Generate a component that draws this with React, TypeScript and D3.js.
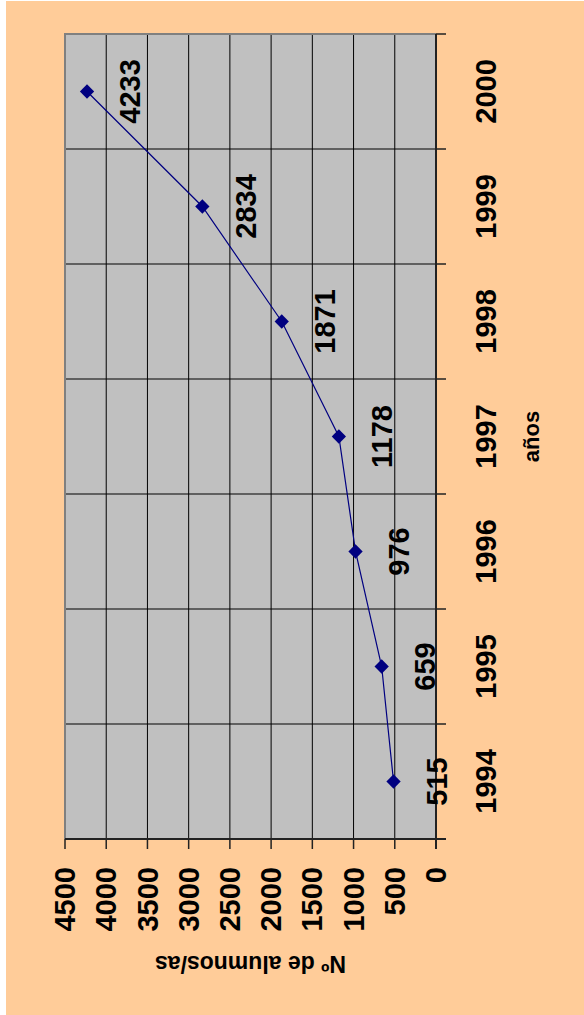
import React, { useRef, useEffect } from "react";
import * as d3 from "d3";

const years = ["1994", "1995", "1996", "1997", "1998", "1999", "2000"];
const alumnos = [515, 659, 976, 1178, 1871, 2834, 4233];
const valueTicks = [0, 500, 1000, 1500, 2000, 2500, 3000, 3500, 4000, 4500];

const FONT = "'Liberation Sans', Arial, sans-serif";

const App: React.FC = () => {
  const width = 584;
  const height = 1015;
  // plot area (chart is drawn rotated: values run right -> left, years bottom -> top)
  const plot = { left: 65, top: 34, right: 436, bottom: 839 };
  const svg = useRef<SVGSVGElement>(null);

  useEffect(() => {
    const s = d3.select(svg.current);
    s.selectAll("*").remove();

    const x = d3.scaleLinear().domain([0, 4500]).range([plot.right, plot.left]);
    const y = d3
      .scaleBand<string>()
      .domain(years.slice().reverse())
      .range([plot.top, plot.bottom]);

    s.append("rect").attr("width", width).attr("height", height).attr("fill", "#ffffff");
    s.append("rect")
      .attr("x", 6)
      .attr("y", 1)
      .attr("width", width - 6)
      .attr("height", height - 1)
      .attr("fill", "#ffcc99");

    s.append("rect")
      .attr("x", plot.left)
      .attr("y", plot.top)
      .attr("width", plot.right - plot.left)
      .attr("height", plot.bottom - plot.top)
      .attr("fill", "#c0c0c0");

    // grid lines
    const g = s.append("g");
    g.selectAll("line.vg")
      .data(valueTicks.slice(1))
      .join("line")
      .attr("class", "vg")
      .attr("x1", (d) => x(d))
      .attr("x2", (d) => x(d))
      .attr("y1", plot.top)
      .attr("y2", plot.bottom)
      .attr("stroke", "#000")
      .attr("stroke-width", 1);

    const bounds = years.map((yr) => (y(yr) as number) + y.bandwidth()).concat([plot.top]);
    g.selectAll("line.hg")
      .data(bounds.slice(1))
      .join("line")
      .attr("class", "hg")
      .attr("x1", plot.left)
      .attr("x2", plot.right)
      .attr("y1", (d) => d)
      .attr("y2", (d) => d)
      .attr("stroke", "#000")
      .attr("stroke-width", 1);

    // plot border (top/left gray)
    s.append("path")
      .attr("d", `M${plot.left},${plot.bottom}V${plot.top}H${plot.right}`)
      .attr("fill", "none")
      .attr("stroke", "#808080")
      .attr("stroke-width", 2);

    // value axis (bottom)
    const ax = s.append("g");
    ax.append("line")
      .attr("x1", plot.left)
      .attr("x2", plot.right + 10)
      .attr("y1", plot.bottom)
      .attr("y2", plot.bottom)
      .attr("stroke", "#222")
      .attr("stroke-width", 2);
    ax.selectAll("line.t")
      .data(valueTicks)
      .join("line")
      .attr("class", "t")
      .attr("x1", (d) => x(d))
      .attr("x2", (d) => x(d))
      .attr("y1", plot.bottom)
      .attr("y2", plot.bottom + 10)
      .attr("stroke", "#222")
      .attr("stroke-width", 1.5);
    ax.selectAll("text")
      .data(valueTicks)
      .join("text")
      .attr("transform", (d) => `translate(${x(d)},867) rotate(-90)`)
      .attr("text-anchor", "end")
      .attr("dy", "0.35em")
      .attr("font-family", FONT)
      .attr("font-weight", "bold")
      .attr("font-size", 29)
      .text((d) => d);

    // category axis (right)
    const cy = s.append("g");
    cy.append("line")
      .attr("x1", plot.right)
      .attr("x2", plot.right)
      .attr("y1", plot.top)
      .attr("y2", plot.bottom + 10)
      .attr("stroke", "#222")
      .attr("stroke-width", 2);
    cy.selectAll("line.t")
      .data(bounds)
      .join("line")
      .attr("class", "t")
      .attr("x1", plot.right)
      .attr("x2", plot.right + 10)
      .attr("y1", (d) => d)
      .attr("y2", (d) => d)
      .attr("stroke", "#222")
      .attr("stroke-width", 1.5);
    cy.selectAll("text")
      .data(years)
      .join("text")
      .attr(
        "transform",
        (d) => `translate(486,${(y(d) as number) + y.bandwidth() / 2}) rotate(-90)`
      )
      .attr("text-anchor", "middle")
      .attr("dy", "0.35em")
      .attr("font-family", FONT)
      .attr("font-weight", "bold")
      .attr("font-size", 29)
      .text((d) => d);

    // axis titles
    s.append("text")
      .attr("transform", `translate(531,${(plot.top + plot.bottom) / 2}) rotate(-90)`)
      .attr("text-anchor", "middle")
      .attr("dy", "0.35em")
      .attr("font-family", FONT)
      .attr("font-weight", "bold")
      .attr("font-size", 22)
      .text("años");
    s.append("text")
      .attr("transform", `translate(${(plot.left + plot.right) / 2},964) rotate(180)`)
      .attr("text-anchor", "middle")
      .attr("dy", "0.35em")
      .attr("font-family", FONT)
      .attr("font-weight", "bold")
      .attr("font-size", 23)
      .text("Nº de alumnos/as");

    // series
    const pts = years.map((yr, i) => ({
      yr,
      v: alumnos[i],
      px: x(alumnos[i]),
      py: (y(yr) as number) + y.bandwidth() / 2,
    }));
    const line = d3
      .line<(typeof pts)[0]>()
      .x((d) => d.px)
      .y((d) => d.py);
    s.append("path")
      .attr("d", line(pts) as string)
      .attr("fill", "none")
      .attr("stroke", "#000080")
      .attr("stroke-width", 1.2);
    s.selectAll("path.m")
      .data(pts)
      .join("path")
      .attr("class", "m")
      .attr("transform", (d) => `translate(${d.px},${d.py})`)
      .attr("d", d3.symbol(d3.symbolDiamond2, 130)() as string)
      .attr("fill", "#000080");

    s.selectAll("text.lbl")
      .data(pts)
      .join("text")
      .attr("class", "lbl")
      .attr("transform", (d) => `translate(${d.px + 43},${d.py}) rotate(-90)`)
      .attr("text-anchor", "middle")
      .attr("dy", "0.35em")
      .attr("font-family", FONT)
      .attr("font-weight", "bold")
      .attr("font-size", 29)
      .attr("fill", "#000")
      .text((d) => d.v);
  });

  return (
    <svg
      ref={svg}
      width={width}
      height={height}
      style={{ position: "absolute", left: 0, top: 0, display: "block" }}
    ></svg>
  );
};

export default App;
